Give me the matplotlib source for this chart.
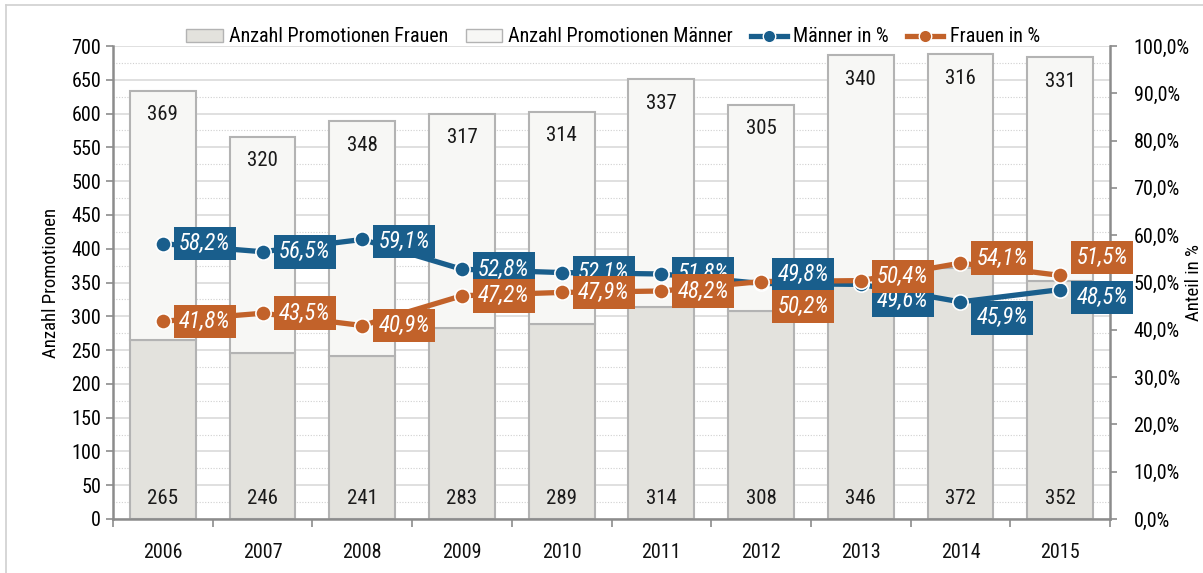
import numpy as np
import matplotlib.pyplot as plt
from matplotlib.patches import Patch
from matplotlib.lines import Line2D
from matplotlib.ticker import FuncFormatter, MultipleLocator

plt.rcParams['font.family'] = ['Roboto Condensed', 'DejaVu Sans']

# Data
years = ['2006', '2007', '2008', '2009', '2010', '2011', '2012', '2013', '2014', '2015']
frauen = [265, 246, 241, 283, 289, 314, 308, 346, 372, 352]
maenner = [369, 320, 348, 317, 314, 337, 305, 340, 316, 331]
maenner_pct = [58.2, 56.5, 59.1, 52.8, 52.1, 51.8, 49.8, 49.6, 45.9, 48.5]
frauen_pct = [41.8, 43.5, 40.9, 47.2, 47.9, 48.2, 50.2, 50.4, 54.1, 51.5]

# label offsets in pixels (dx, dy)
m_off = [(42, 0), (42, 0), (42, -2), (42, 0), (42, 0), (42, 0), (42, 9), (42, -16), (42, -16), (42, -8)]
f_off = [(42, 0), (42, 0), (42, 0), (42, 0), (42, 0), (42, 0), (42, -25), (42, 4), (42, 5), (42, 18)]

blue = '#195E8C'
orange = '#C2622A'
fill_f = '#E3E2DD'
fill_m = '#F7F7F5'
edge = '#B3B3B3'
spine_c = '#8C8C8C'

fig = plt.figure(figsize=(12.03, 5.73), dpi=100)
ax = fig.add_axes([113 / 1203, 1 - 519 / 573, (1110 - 113) / 1203, (519 - 46) / 573])
x = np.arange(len(years))

ax.bar(x, frauen, width=0.66, color=fill_f, edgecolor=edge, linewidth=1.5, zorder=2)
ax.bar(x, maenner, width=0.66, bottom=frauen, color=fill_m, edgecolor=edge, linewidth=1.5, zorder=2)

for i in range(len(years)):
    ax.text(i, 30, str(frauen[i]), ha='center', va='center', fontsize=15, color='#1a1a1a', zorder=3)
    ax.annotate(str(maenner[i]), (i, frauen[i] + maenner[i]), xytext=(0, -24),
                textcoords='offset pixels', ha='center', va='center', fontsize=15,
                color='#1a1a1a', zorder=3)

ax.set_xlim(-0.5, len(years) - 0.5)
ax.set_ylim(0, 700)
ax.yaxis.set_major_locator(MultipleLocator(50))
ax.yaxis.set_minor_locator(MultipleLocator(25))
ax.grid(axis='y', which='major', color='#DADADA', linewidth=1.2)
ax.grid(axis='y', which='minor', color='#D0D0D0', linewidth=0.8, linestyle=(0, (1, 1.5)))
ax.set_axisbelow(True)

ax.set_xticks(x)
ax.set_xticklabels(years, fontsize=14.5, color='#111111')
ax.set_xticks(np.arange(-0.5, len(years)), minor=True)
ax.tick_params(axis='x', which='major', length=0, pad=17)
ax.tick_params(axis='x', which='minor', length=6, color=spine_c, width=1.2, direction='out')
ax.tick_params(axis='y', which='major', labelsize=14.5, length=5, color=spine_c, width=1.2)
ax.tick_params(axis='y', which='minor', length=0)
ax.set_ylabel('Anzahl Promotionen', fontsize=13.5, labelpad=8)

for s in ['top', 'right']:
    ax.spines[s].set_visible(False)
for s in ['left', 'bottom']:
    ax.spines[s].set_color(spine_c)
    ax.spines[s].set_linewidth(1.8)

ax2 = ax.twinx()
ax2.set_ylim(0, 1)
ax2.yaxis.set_major_locator(MultipleLocator(0.1))
ax2.yaxis.set_major_formatter(FuncFormatter(lambda v, p: f'{v * 100:.1f}%'.replace('.', ',')))
ax2.tick_params(axis='y', labelsize=14.5, length=5, color=spine_c, width=1.2, pad=12)
for s in ['top', 'left', 'bottom']:
    ax2.spines[s].set_visible(False)
ax2.spines['right'].set_color(spine_c)
ax2.spines['right'].set_linewidth(1.8)

mp = np.array(maenner_pct) / 100
fp = np.array(frauen_pct) / 100
ax2.plot(x, mp, color=blue, linewidth=3.8, marker='o', markersize=11,
         markeredgecolor='white', markeredgewidth=1.2, zorder=4)
ax2.plot(x, fp, color=orange, linewidth=3.8, marker='o', markersize=11,
         markeredgecolor='white', markeredgewidth=1.2, zorder=5)

for i in range(len(years)):
    ax2.annotate(f'{maenner_pct[i]:.1f}%'.replace('.', ','), (x[i], mp[i]), xytext=m_off[i],
                 textcoords='offset pixels', ha='center', va='center', fontsize=16.5,
                 style='italic', color='white', zorder=6,
                 bbox=dict(boxstyle='square,pad=0.23', facecolor=blue, edgecolor='none'))
for i in range(len(years)):
    ax2.annotate(f'{frauen_pct[i]:.1f}%'.replace('.', ','), (x[i], fp[i]), xytext=f_off[i],
                 textcoords='offset pixels', ha='center', va='center', fontsize=16.5,
                 style='italic', color='white', zorder=7,
                 bbox=dict(boxstyle='square,pad=0.23', facecolor=orange, edgecolor='none'))

fig.text(1194 / 1203, 1 - 283 / 573, 'Anteil in %', rotation=90, ha='center', va='center', fontsize=13.5)

handles = [
    Patch(facecolor=fill_f, edgecolor=edge, label='Anzahl Promotionen Frauen'),
    Patch(facecolor=fill_m, edgecolor=edge, label='Anzahl Promotionen Männer'),
    Line2D([0], [0], color=blue, linewidth=3.8, marker='o', markersize=9,
           markeredgecolor='white', label='Männer in %'),
    Line2D([0], [0], color=orange, linewidth=3.8, marker='o', markersize=9,
           markeredgecolor='white', label='Frauen in %'),
]
fig.legend(handles=handles, loc='center', bbox_to_anchor=(613 / 1203, 1 - 37 / 573), ncol=4,
           frameon=False, fontsize=14.5, handlelength=1.8, handleheight=0.6,
           columnspacing=0.9, handletextpad=0.3)

# figure border lines (top and left)
fig.add_artist(Line2D([6 / 1203, 6 / 1203], [0, 1 - 5 / 573], color='#D0D0D0', linewidth=1.2,
                      transform=fig.transFigure))
fig.add_artist(Line2D([6 / 1203, 1], [1 - 5 / 573, 1 - 5 / 573], color='#D0D0D0', linewidth=1.2,
                      transform=fig.transFigure))

fig.savefig('out.png', dpi=100)
